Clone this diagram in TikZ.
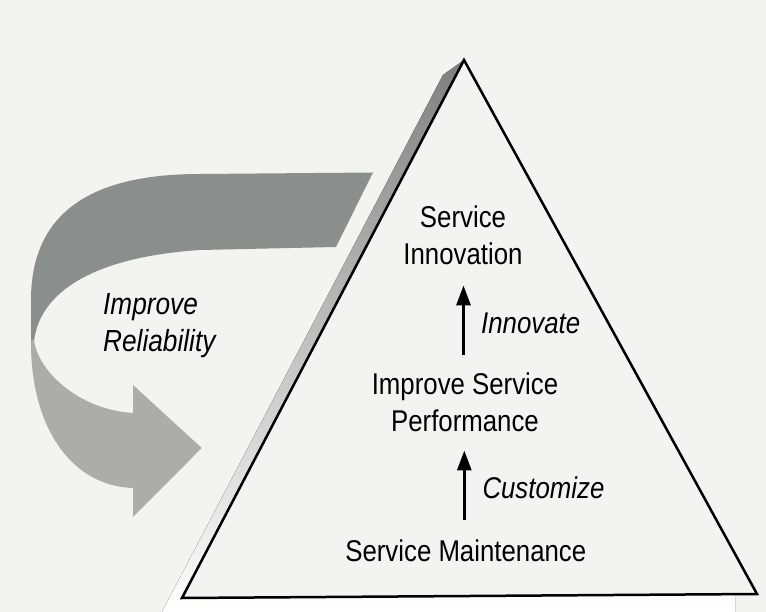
\documentclass[tikz,border=0pt]{standalone}
\usepackage{fontspec}
\setmainfont[FakeStretch=0.86]{Liberation Sans}
\usetikzlibrary{arrows.meta}
\definecolor{bg}{RGB}{243,243,241}
\definecolor{banddark}{RGB}{138,142,140}
\definecolor{bandlight}{RGB}{172,172,170}
\definecolor{shade}{RGB}{188,188,186}
\begin{document}
\begin{tikzpicture}[x=1pt,y=-1pt,
  lbl/.style={font=\fontsize{30}{37}\selectfont, inner sep=0pt, align=center},
  ilbl/.style={font=\fontsize{30}{37}\selectfont\itshape, inner sep=0pt, anchor=base west},
  up/.style={-{Triangle[length=20pt,width=14pt]}, line width=3pt}]
\useasboundingbox (0,0) rectangle (766,612);
\fill[bg] (0,0) rectangle (766,612);
% shadow of the pyramid
\fill[shade] (443,75) -- (162,612) -- (735,612) -- (735,596) -- (464,60) -- cycle;
% pyramid
\draw[line width=2.5pt, fill=bg, line join=miter] (464,60) -- (757,594) -- (182,598) -- cycle;
% big curved arrow: upper (dark) part
\fill[banddark] (373,172.5) -- (200,174) .. controls (110,174) and (31,200) .. (31,300)
  -- (31,342) -- (34,342) .. controls (38,300) and (80,258) .. (200,250) -- (336,247) -- cycle;
% lower (light) part with head
\fill[bandlight] (31,340) .. controls (30,425) and (70,486) .. (133,488) -- (133,517)
  -- (201.7,448) -- (133,385) -- (133,413) .. controls (80,410) and (38,372) .. (34,340) -- cycle;
% labels (base anchor = baseline of the last line)
\node[lbl, anchor=base] (innov) at (463,265) {Service\\Innovation};
\node[lbl, anchor=base] (perf) at (465,431.7) {Improve Service\\Performance};
\node[lbl, anchor=base] (maint) at (465.8,561.7) {Service Maintenance};
\node[ilbl] (innovate) at (481,333.3) {Innovate};
\node[ilbl] (customize) at (482.3,498.3) {Customize};
\node[lbl, anchor=base west, align=left, font=\fontsize{30.5}{37}\selectfont\itshape] (reliab) at (103,352) {Improve\\Reliability};
% connectors
\draw[up, shorten <=17.7pt, shorten >=20pt] ([xshift=-1.5pt]perf.north) -- ([xshift=-1.5pt]perf.north |- innov.south);
\draw[up, shorten <=19.4pt, shorten >=18.3pt] ([xshift=-1.5pt]maint.north) -- ([xshift=-1.5pt]maint.north |- perf.south);
\end{tikzpicture}
\end{document}
